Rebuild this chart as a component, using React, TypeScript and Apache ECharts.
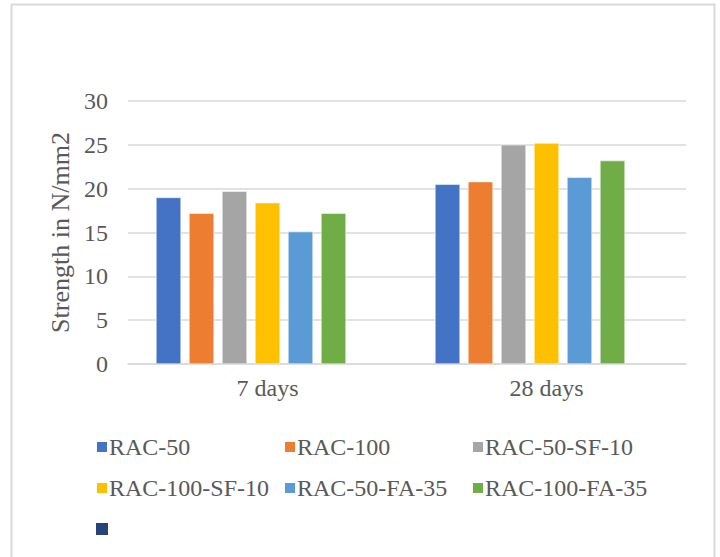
import React, { useEffect, useRef } from "react";
import * as echarts from "echarts";

const categories = ["7 days", "28 days"];
const seriesNames = ["RAC-50", "RAC-100", "RAC-50-SF-10", "RAC-100-SF-10", "RAC-50-FA-35", "RAC-100-FA-35"];
const rac50 = [19.0, 20.5];
const rac100 = [17.2, 20.8];
const rac50sf10 = [19.7, 25.0];
const rac100sf10 = [18.4, 25.2];
const rac50fa35 = [15.1, 21.3];
const rac100fa35 = [17.2, 23.2];
const emptySeries = [null, null];
const seriesValues = [rac50, rac100, rac50sf10, rac100sf10, rac50fa35, rac100fa35];
const colors = ["#4472C4", "#ED7D31", "#A5A5A5", "#FFC000", "#5B9BD5", "#70AD47"];
const extraLegendColor = "#264478";
const yTicks = [0, 5, 10, 15, 20, 25, 30];

const FONT = '"Liberation Serif", "Times New Roman", serif';
const TXT = "#595959";
const FS = 24;

export default function App() {
  const ref = useRef<HTMLDivElement>(null);
  useEffect(() => {
    document.body.style.margin = "0";
    const chart = echarts.init(ref.current!, null, { renderer: "svg" });
    const series: any[] = seriesNames.map((name, i) => ({
      name,
      type: "bar",
      data: seriesValues[i],
      barWidth: 25,
      barGap: "32%",
      itemStyle: { color: colors[i], borderColor: "#ffffff", borderWidth: 0.5 },
    }));
    series.push({
      name: " ",
      type: "bar",
      data: emptySeries,
      barWidth: 25,
      barGap: "32%",
      itemStyle: { color: extraLegendColor },
    });
    const legendBase = {
      orient: "vertical",
      icon: "rect",
      itemWidth: 12,
      itemHeight: 12,
      itemGap: 17,
      top: 430,
      textStyle: { fontFamily: FONT, fontSize: FS, lineHeight: 24, color: TXT, padding: [0, 0, 0, -4] },
      selectedMode: false,
    };
    chart.setOption({
      animation: false,
      grid: { left: 128, right: 34, top: 101, bottom: 193 },
      xAxis: {
        type: "category",
        data: categories,
        axisLine: { lineStyle: { color: "#d9d9d9", width: 1.5 } },
        axisTick: { show: false },
        axisLabel: { fontFamily: FONT, fontSize: FS, color: TXT, margin: 12 },
      },
      yAxis: {
        type: "value",
        min: yTicks[0],
        max: yTicks[yTicks.length - 1],
        interval: 5,
        name: "Strength in N/mm2",
        nameLocation: "middle",
        nameGap: 55,
        nameRotate: 90,
        nameTextStyle: { fontFamily: FONT, fontSize: 26, color: TXT },
        axisLine: { show: false },
        axisTick: { show: false },
        axisLabel: { fontFamily: FONT, fontSize: FS, color: TXT, margin: 20 },
        splitLine: { lineStyle: { color: "#d9d9d9", width: 1.5 } },
      },
      legend: [
        { ...legendBase, left: 90, data: ["RAC-50", "RAC-100-SF-10", " "] },
        { ...legendBase, left: 278, data: ["RAC-100", "RAC-50-FA-35"] },
        { ...legendBase, left: 466, data: ["RAC-50-SF-10", "RAC-100-FA-35"] },
      ],
      graphic: [
        {
          type: "rect",
          shape: { x: 11.5, y: 4.5, width: 703, height: 570 },
          style: { fill: "none", stroke: "#d9d9d9", lineWidth: 2 },
          silent: true,
        },
      ],
      series,
    });
    return () => chart.dispose();
  }, []);
  return <div ref={ref} style={{ width: 720, height: 557 }} />;
}
